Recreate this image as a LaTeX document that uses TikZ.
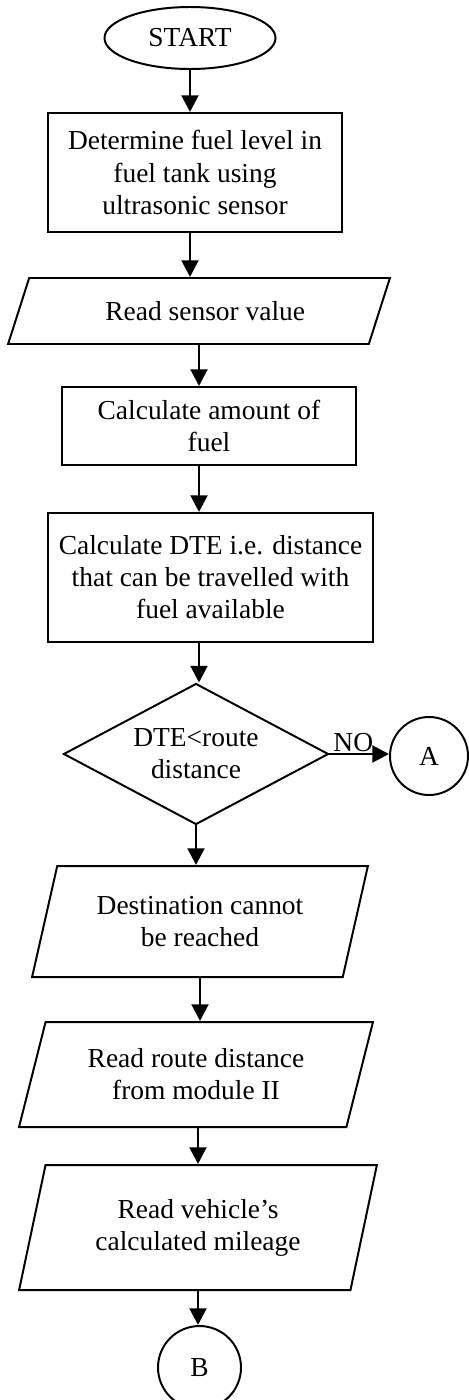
\documentclass[tikz,border=0pt]{standalone}
\usepackage{fontspec}
\setmainfont{Liberation Serif}
\usepackage{tikz}
\usetikzlibrary{positioning,arrows.meta,shapes.geometric}
\tikzset{%
  block/.style={draw, rectangle, line width=0.9pt, align=center, inner sep=0pt},% process box
  io/.style={draw, trapezium, trapezium stretches=true, line width=0.9pt,
    align=center, inner sep=0pt},% input / output
  terminal/.style={draw, ellipse, line width=0.9pt, inner sep=0pt},% start
  decision/.style={draw, diamond, aspect=1.9, line width=0.9pt, align=center,
    inner sep=0pt},% test
  connector/.style={draw, circle, line width=0.9pt, inner sep=0pt},% off page
  flow/.style={line width=1.35pt, -{Triangle[length=7.6pt,width=7.6pt]}}% arrows
}

\begin{document}
\begin{tikzpicture}[font=\fontsize{12.5}{14.6}\selectfont]
\useasboundingbox (0,0) rectangle (7.504,-22.4);
\def\x{0}
\def\y{0}
\node[terminal, minimum width=2.736cm, minimum height=0.992cm] (start) at (3.04 + \x, -0.608 + \y) {START};
\node[block, minimum width=4.704cm, minimum height=1.904cm] (det) at (3.12 + \x, -2.76 + \y) {Determine fuel level in\\ fuel tank using\\ ultrasonic sensor};
\node[io, trapezium left angle=55.7, trapezium right angle=124.3, minimum width=6.112cm, minimum height=1.056cm] (rsv) at (3.184 + \x, -4.976 + \y) {\hspace{0.2cm}Read sensor value};
\node[block, minimum width=4.704cm, minimum height=1.248cm] (amt) at (3.344 + \x, -6.816 + \y) {Calculate amount of\\ fuel};
\node[block, minimum width=5.2cm, minimum height=2.064cm] (dte) at (3.368 + \x, -9.24 + \y) {Calculate DTE i.e. distance\\ that can be travelled with\\ fuel available};
\node[decision, minimum width=4.24cm, minimum height=2.256cm] (dec) at (3.136 + \x, -12.064 + \y) {DTE<route\\ distance\hspace{0.2cm}};
\node[connector, minimum size=1.248cm] (ca) at (6.864 + \x, -12.096 + \y) {A};
\node[io, trapezium left angle=70.2, trapezium right angle=109.8, minimum width=5.376cm, minimum height=1.776cm] (dest) at (3.2 + \x, -14.744 + \y) {Destination cannot\\ be reached};
\node[io, trapezium left angle=69.6, trapezium right angle=110.4, minimum width=5.664cm, minimum height=1.68cm] (rrd) at (3.136 + \x, -17.192 + \y) {Read route distance\\ from module II};
\node[io, trapezium left angle=72.7, trapezium right angle=107.3, minimum width=5.728cm, minimum height=2.0cm] (mil) at (3.168 + \x, -19.64 + \y) {Read vehicle’s\\ calculated mileage};
\node[connector, minimum size=1.328cm] (cb) at (3.192 + \x, -21.88 + \y) {B};

\draw[flow] (start.south) -- (start.south |- det.north);
\draw[flow] (det.south -| start) -- (rsv.north -| start);
\draw[flow] (rsv |- rsv.south) -- (rsv |- amt.north);
\draw[flow] (amt.south -| rsv) -- (dte.north -| rsv);
\draw[flow] (dte.south -| rsv) -- (dec.north -| rsv);
\draw[flow] (dec.south) -- (dec.south |- dest.north);
\draw[flow] (dest |- dest.south) -- (dest |- rrd.north);
\draw[flow] (mil |- rrd.south) -- (mil |- mil.north);
\draw[flow] (mil |- mil.south) -- (mil |- cb.north);
\draw[flow] (dec.east) -- node[above, pos=0.4, inner sep=0.5pt] {NO} (dec.east -| ca.west);
\end{tikzpicture}
\end{document}
